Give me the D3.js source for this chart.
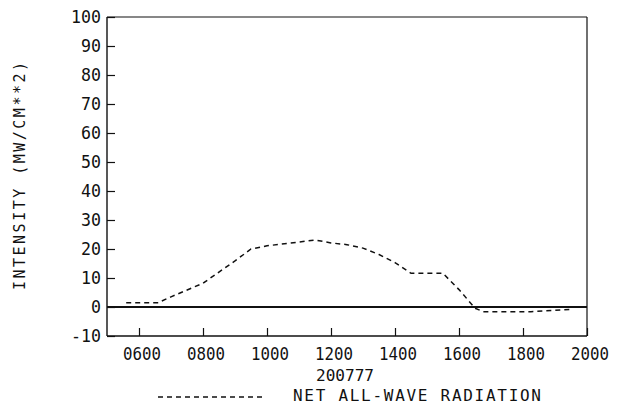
<!DOCTYPE html>
<html>
<head>
<meta charset="utf-8">
<script src="https://cdn.jsdelivr.net/npm/d3@7"></script>
<style>
  html, body { margin: 0; padding: 0; background: #fff; }
  svg { display: block; }
  text { font-family: "DejaVu Sans Mono", monospace; fill: #111; }
</style>
</head>
<body>
<svg id="chart" width="618" height="412"></svg>
<script>
// Net all-wave radiation, day 200777 (hour of day, mW/cm**2)
const hours = [5.6, 6.6, 7.0, 8.0, 9.0, 9.5, 10.0, 11.0, 11.5, 12.0, 12.5, 13.0, 13.5, 14.0, 14.5, 15.5, 16.0, 16.5, 16.75, 18.25, 19.5];
const netRadiation = [1.5, 1.5, 3.5, 8.2, 15.9, 20.0, 21.1, 22.4, 23.1, 22.1, 21.5, 20.3, 18.1, 15.3, 11.6, 11.6, 6.0, -0.4, -1.6, -1.6, -0.8];

// Zero reference line across the whole day
const zeroHours = [5, 20];
const zeroValues = [0, 0];

const xTickValues = [6, 8, 10, 12, 14, 16, 18, 20];
const xTickLabels = ["0600", "0800", "1000", "1200", "1400", "1600", "1800", "2000"];
const yTickValues = [-10, 0, 10, 20, 30, 40, 50, 60, 70, 80, 90, 100];

const yTitle = "INTENSITY (MW/CM**2)";
const xTitle = "200777";
const legendLabel = "NET ALL-WAVE RADIATION";

const svg = d3.select("#chart");
const plotLeft = 107, plotRight = 587, plotTop = 17, plotBottom = 336;

const x = d3.scaleLinear().domain([5, 20]).range([plotLeft, plotRight]);
const y = d3.scaleLinear().domain([-10, 100]).range([plotBottom, plotTop]);

// Frame
const frame = svg.append("g").attr("stroke", "#111").attr("fill", "none");
frame.append("line").attr("x1", plotLeft).attr("x2", plotLeft).attr("y1", plotTop).attr("y2", plotBottom).attr("stroke-width", 1.4);
frame.append("line").attr("x1", plotLeft).attr("x2", plotRight).attr("y1", plotBottom).attr("y2", plotBottom).attr("stroke-width", 1.4);
frame.append("line").attr("x1", plotRight).attr("x2", plotRight).attr("y1", plotTop).attr("y2", plotBottom).attr("stroke-width", 1.2);
frame.append("line").attr("x1", plotLeft).attr("x2", plotRight).attr("y1", plotTop).attr("y2", plotTop).attr("stroke-width", 1.1);

// Y axis: inward ticks, labels on the left
const yAxis = d3.axisRight(y).tickValues(yTickValues).tickSize(8).tickFormat("");
const gy = svg.append("g").attr("transform", `translate(${plotLeft},0)`).call(yAxis);
gy.select(".domain").remove();
gy.selectAll(".tick line").attr("stroke", "#111").attr("stroke-width", 1.2);

svg.append("g").selectAll("text").data(yTickValues).join("text")
  .attr("x", plotLeft - 6)
  .attr("y", d => y(d) + 6)
  .attr("text-anchor", "end")
  .attr("font-size", 17)
  .attr("textLength", d => String(d).length * 10)
  .attr("lengthAdjust", "spacingAndGlyphs")
  .text(d => String(d));

// X axis: inward ticks, labels below
const xAxis = d3.axisTop(x).tickValues(xTickValues).tickSize(8).tickFormat("");
const gx = svg.append("g").attr("transform", `translate(0,${plotBottom})`).call(xAxis);
gx.select(".domain").remove();
gx.selectAll(".tick line").attr("stroke", "#111").attr("stroke-width", 1.2);

svg.append("g").selectAll("text").data(xTickValues).join("text")
  .attr("x", d => x(d) + 3)
  .attr("y", plotBottom + 24)
  .attr("text-anchor", "middle")
  .attr("font-size", 17)
  .attr("textLength", 38)
  .attr("lengthAdjust", "spacingAndGlyphs")
  .text((d, i) => xTickLabels[i]);

// Axis titles
svg.append("text")
  .attr("x", 345).attr("y", plotBottom + 45)
  .attr("text-anchor", "middle")
  .attr("font-size", 16)
  .attr("textLength", 58)
  .attr("lengthAdjust", "spacingAndGlyphs")
  .text(xTitle);

svg.append("text")
  .attr("transform", `translate(25,${176}) rotate(-90)`)
  .attr("text-anchor", "middle")
  .attr("font-size", 15)
  .attr("textLength", 228)
  .attr("lengthAdjust", "spacing")
  .text(yTitle);

// Data lines
const line = d3.line().x(d => x(d[0])).y(d => y(d[1]));

svg.append("path")
  .datum(d3.zip(zeroHours, zeroValues))
  .attr("d", line)
  .attr("fill", "none")
  .attr("stroke", "#111")
  .attr("stroke-width", 2);

svg.append("path")
  .datum(d3.zip(hours, netRadiation))
  .attr("d", line)
  .attr("fill", "none")
  .attr("stroke", "#111")
  .attr("stroke-width", 1.5)
  .attr("stroke-dasharray", "5,4");

// Legend
svg.append("line")
  .attr("x1", 158).attr("x2", 265)
  .attr("y1", 397).attr("y2", 397)
  .attr("stroke", "#111")
  .attr("stroke-width", 1.3)
  .attr("stroke-dasharray", "5,4");

svg.append("text")
  .attr("x", 293).attr("y", 401)
  .attr("font-size", 16)
  .attr("textLength", 248)
  .attr("lengthAdjust", "spacing")
  .text(legendLabel);
</script>
</body>
</html>
